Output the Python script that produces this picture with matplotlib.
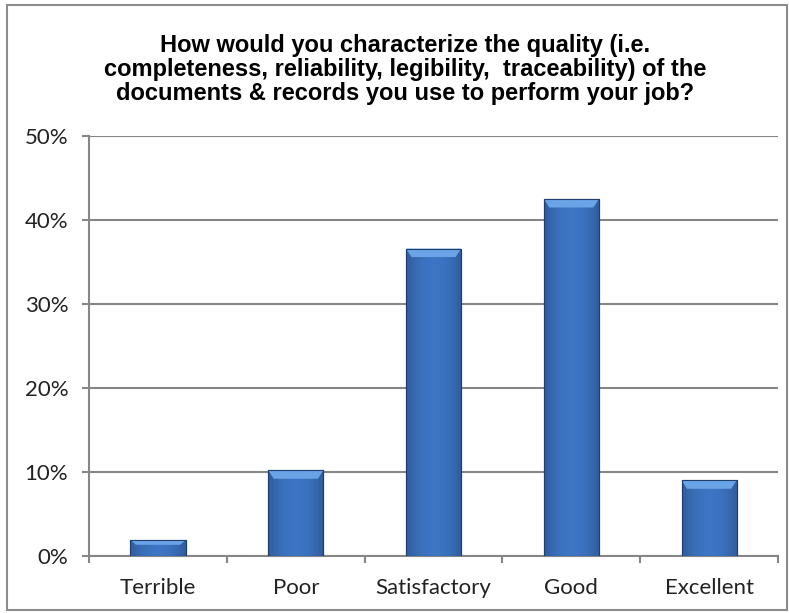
import numpy as np
import matplotlib
matplotlib.use('Agg')
from matplotlib import pyplot as plt
from matplotlib.patches import Rectangle, Polygon

categories = ['Terrible', 'Poor', 'Satisfactory', 'Good', 'Excellent']
values = [1.9, 10.2, 36.6, 42.5, 9.0]
y_ticks = [0, 10, 20, 30, 40, 50]
title = ('How would you characterize the quality (i.e.\n'
         'completeness, reliability, legibility,  traceability) of the\n'
         'documents & records you use to perform your job?')

fig = plt.figure(figsize=(7.89, 6.13), dpi=100)
ax = fig.add_axes([0.113, 0.093, 0.873, 0.685])

# outer frame around the whole chart
fig.patches.append(Rectangle((0.009, 0.005), 0.988, 0.987, transform=fig.transFigure,
                             fill=False, edgecolor='#8c8c8c', linewidth=1.5))

x = np.arange(len(categories))
bars = ax.bar(x, values, width=0.4, color='#3a72bf', edgecolor='#1e3f6e', linewidth=0.8, zorder=3)

# shaded fill: slightly darker at the sides, lighter bevel on top
cols = np.linspace(0, 1, 64)
shade = 1 - 0.22 * np.abs(cols - 0.5) ** 2 * 4
base = np.array([0.24, 0.46, 0.77])
grad = np.clip(base[None, :] * shade[:, None], 0, 1)
for b in bars:
    x0, w, h = b.get_x(), b.get_width(), b.get_height()
    im = ax.imshow(grad[None, :, :], extent=[x0, x0 + w, 0, h], aspect='auto', zorder=3.5)
    im.set_clip_path(b)
    bev = min(1.0, h * 0.3)
    ax.add_patch(Polygon([(x0, h), (x0 + w, h), (x0 + w * 0.9, h - bev), (x0 + w * 0.1, h - bev)],
                         closed=True, facecolor='#6aa3e6', edgecolor='none', zorder=3.7))
    ax.add_patch(Rectangle((x0, 0), w, h, fill=False, edgecolor='#1e3f6e', linewidth=0.8, zorder=4))

ax.set_xlim(-0.5, len(categories) - 0.5)
ax.set_ylim(0, 50)
ax.set_yticks(y_ticks)
ax.set_yticklabels([f'{t}%' for t in y_ticks], fontsize=16, family=['Lato', 'DejaVu Sans'], color='#222222')
ax.set_xticks(x)
ax.set_xticklabels(categories, fontsize=16, family=['Lato', 'DejaVu Sans'], color='#222222')
ax.tick_params(axis='x', length=0, pad=16)
ax.set_xticks(np.arange(len(categories) + 1) - 0.5, minor=True)
ax.tick_params(axis='x', which='minor', length=5, color='#868686', width=1.5)
ax.tick_params(axis='y', length=5, color='#868686', width=1.5, pad=10)

ax.grid(axis='y', color='#868686', linewidth=1.5, zorder=0)
ax.set_axisbelow(True)
for s in ['top', 'right']:
    ax.spines[s].set_visible(False)
for s in ['left', 'bottom']:
    ax.spines[s].set_color('#868686')
    ax.spines[s].set_linewidth(1.5)

fig.text(0.513, 0.945, title, ha='center', va='top', fontsize=17, fontweight='bold',
         family=['Liberation Sans Narrow', 'Liberation Sans', 'DejaVu Sans'], linespacing=1.05)

fig.savefig('out.png', dpi=100)
